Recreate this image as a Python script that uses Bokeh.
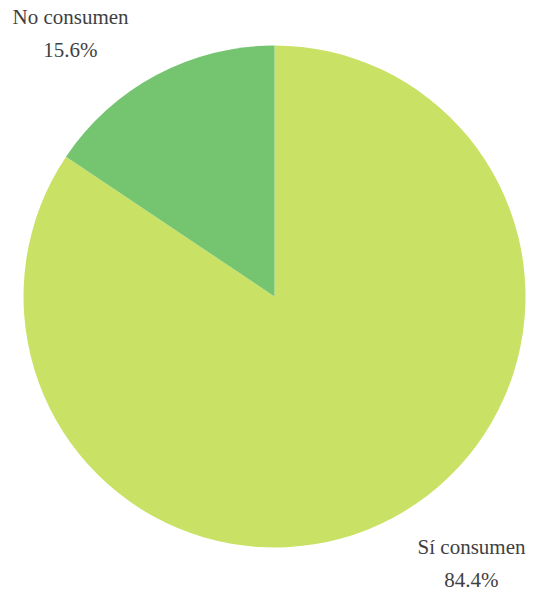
import math
from bokeh.plotting import figure
from bokeh.models import Range1d, ColumnDataSource
from bokeh.core.properties import value
from bokeh.embed import file_html
from bokeh.resources import INLINE

categories = ["Sí consumen", "No consumen"]
percentages = [84.4, 15.6]
colors = ["#C9E266", "#75C470"]
label_texts = ["Sí consumen\n84.4%", "No consumen\n15.6%"]

W, H = 533, 596
cx, cy, r = 274, H - 296, 251

# clockwise from 12 o'clock
starts, ends = [], []
acc = 0.0
for pct in percentages:
    a0 = math.pi / 2 - 2 * math.pi * (acc + pct) / 100
    a1 = math.pi / 2 - 2 * math.pi * acc / 100
    starts.append(a0)
    ends.append(a1)
    acc += pct

src = ColumnDataSource(dict(cat=categories, start=starts, end=ends, color=colors))

p = figure(width=W, height=H, output_backend="svg", toolbar_location=None,
           x_range=Range1d(0, W), y_range=Range1d(0, H), min_border=0)
p.axis.visible = False
p.grid.visible = False
p.outline_line_color = None
p.background_fill_color = "white"

p.wedge(x=cx, y=cy, radius=r, start_angle="start", end_angle="end",
        fill_color="color", line_color=None, source=src)

lsrc = ColumnDataSource(dict(x=[471, 70], y=[H - 563, H - 33], t=label_texts))
p.text(x="x", y="y", text="t", source=lsrc, text_align="center",
       text_baseline="middle", text_font=value("Liberation Serif"),
       text_font_size="21px", text_color="#3f3f3f", text_line_height=1.4)

open("out.html", "w").write(file_html(p, INLINE))
